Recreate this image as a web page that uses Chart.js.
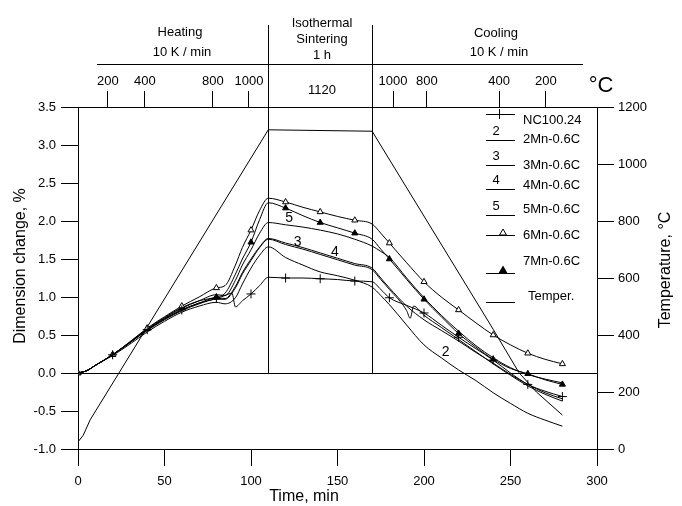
<!DOCTYPE html>
<html>
<head>
<meta charset="utf-8">
<script src="https://cdn.jsdelivr.net/npm/chart.js@4.4.0/dist/chart.umd.min.js"></script>
<style>
  html, body { margin: 0; padding: 0; background: #fff; }
  #wrap { width: 682px; height: 506px; position: relative; }
</style>
</head>
<body>
<div id="wrap"><canvas id="chart" width="682" height="506"></canvas></div>
<script>
// sampling times (min) shared by the dilatometer curves
const minutes = [0, 5, 10, 20, 30, 40, 50, 60, 70, 80, 85, 89, 91, 95, 100, 105, 110,
  120, 130, 140, 150, 160, 170, 175, 180, 190, 192, 194, 200, 210, 220, 230, 240, 250, 260, 270, 280];

// dimension change, %
const nc10024 = [0, 0.03, 0.1, 0.24, 0.4, 0.57, 0.71, 0.83, 0.92, 0.98, 1.02, 1.05, 0.87, 0.95, 1.04, 1.15, 1.26,
  1.25, 1.25, 1.24, 1.23, 1.21, 1.2, 1.1, 0.99, 0.89, null, null, 0.79, 0.63, 0.47, 0.32, 0.17, 0.0, -0.15, -0.24, -0.31];
const mn2 = [0, 0.03, 0.1, 0.23, 0.38, 0.54, 0.68, 0.8, 0.88, 0.93, 0.91, null, 0.99, 1.17, 1.38, 1.55, 1.66,
  1.52, 1.42, 1.33, 1.28, 1.22, 1.13, 1.02, 0.9, 0.63, null, null, 0.37, 0.2, 0.04, -0.1, -0.26, -0.4, -0.53, -0.62, -0.7];
const mn3 = [0, 0.03, 0.1, 0.24, 0.4, 0.57, 0.71, 0.83, 0.92, 0.99, 0.98, null, 1.14, 1.32, 1.5, 1.66, 1.77,
  1.71, 1.65, 1.58, 1.51, 1.44, 1.38, 1.25, 1.12, 0.88, null, null, 0.7, 0.56, 0.42, 0.27, 0.13, -0.02, -0.15, -0.26, -0.34];
const mn4 = [0, 0.03, 0.1, 0.24, 0.4, 0.56, 0.7, 0.82, 0.91, 0.97, 0.97, null, 1.12, 1.3, 1.48, 1.65, 1.76,
  1.69, 1.63, 1.56, 1.49, 1.42, 1.36, 1.23, 1.1, 0.82, 0.72, 0.88, 0.76, 0.6, 0.44, 0.28, 0.12, -0.03, -0.17, -0.28, -0.37];
const mn5 = [0, 0.03, 0.1, 0.24, 0.4, 0.57, 0.72, 0.85, 0.95, 1.03, 1.02, null, 1.22, 1.42, 1.62, 1.84, 1.98,
  1.95, 1.92, 1.88, 1.83, 1.76, 1.67, 1.6, 1.52, 1.25, null, null, 0.99, 0.76, 0.55, 0.36, 0.2, 0.07, -0.02, -0.08, -0.13];
const mn6 = [0, 0.03, 0.1, 0.24, 0.41, 0.59, 0.74, 0.88, 1.0, 1.12, 1.15, null, 1.42, 1.65, 1.88, 2.14, 2.3,
  2.25, 2.18, 2.12, 2.06, 2.01, 1.96, 1.84, 1.71, 1.45, null, null, 1.2, 1.0, 0.83, 0.66, 0.5, 0.37, 0.26, 0.18, 0.12];
const mn7 = [0, 0.03, 0.1, 0.24, 0.41, 0.58, 0.73, 0.86, 0.95, 1.0, 1.05, null, 1.3, 1.5, 1.72, 2.02, 2.24,
  2.17, 2.07, 1.98, 1.91, 1.84, 1.76, 1.63, 1.5, 1.23, null, null, 0.97, 0.74, 0.52, 0.34, 0.18, 0.06, -0.01, -0.09, -0.15];

// furnace temperature, °C
const tempMinutes = [0, 3, 7, 110, 170, 240, 255, 265, 280];
const tempValues = [25, 48, 102, 1120, 1115, 420, 267, 200, 119];

const seriesNames = ['NC100.24', '2Mn-0.6C', '3Mn-0.6C', '4Mn-0.6C', '5Mn-0.6C', '6Mn-0.6C', '7Mn-0.6C', 'Temper.'];
const legendNumbers = ['', '2', '3', '4', '5', '', '', ''];

// top temperature scale
const topTickMinutes = [17.3, 38.7, 78, 98.8, 182.1, 201.7, 243.4, 270.5];
const topTickLabels = ['200', '400', '800', '1000', '1000', '800', '400', '200'];

const FONT = 'Arial, "Liberation Sans", sans-serif';
Chart.defaults.font.family = FONT;
Chart.defaults.font.size = 13;
Chart.defaults.color = '#000';

function points(values) {
  return minutes.map((t, i) => ({ x: t, y: values[i] }));
}

// markers only every 20 min
function everyTwenty(r) {
  return ctx => (ctx.raw && ctx.raw.x % 20 === 0 ? r : 0);
}

function curve(label, values, extra) {
  return Object.assign({
    label: label,
    data: points(values),
    borderColor: '#000',
    borderWidth: 1,
    pointRadius: 0,
    pointHoverRadius: 0,
    cubicInterpolationMode: 'monotone',
    spanGaps: true,
    yAxisID: 'y'
  }, extra || {});
}

const datasets = [
  curve(seriesNames[0], nc10024, { pointStyle: 'cross', pointRadius: everyTwenty(4.5), pointBorderColor: '#000', pointBorderWidth: 1 }),
  curve(seriesNames[1], mn2),
  curve(seriesNames[2], mn3),
  curve(seriesNames[3], mn4),
  curve(seriesNames[4], mn5),
  curve(seriesNames[5], mn6, { pointStyle: 'triangle', pointRadius: everyTwenty(3.5), pointBackgroundColor: '#fff', pointBorderColor: '#000', pointBorderWidth: 1 }),
  curve(seriesNames[6], mn7, { pointStyle: 'triangle', pointRadius: everyTwenty(3.5), pointBackgroundColor: '#000', pointBorderColor: '#000', pointBorderWidth: 1 }),
  {
    label: seriesNames[7],
    data: tempMinutes.map((t, i) => ({ x: t, y: tempValues[i] })),
    borderColor: '#000',
    borderWidth: 1,
    pointRadius: 0,
    tension: 0,
    yAxisID: 'y2'
  }
];

function drawTriangle(ctx, cx, cy, r, fill) {
  ctx.beginPath();
  ctx.moveTo(cx, cy - r);
  ctx.lineTo(cx + r * 0.87, cy + r / 2);
  ctx.lineTo(cx - r * 0.87, cy + r / 2);
  ctx.closePath();
  ctx.fillStyle = fill;
  ctx.fill();
  ctx.stroke();
}

// header, phase dividers, curve numbers, legend and axis titles
const decorations = {
  id: 'decorations',
  afterDraw(chart) {
    const { ctx, scales: { x, y } } = chart;
    const y0 = Math.round(y.getPixelForValue(0)) + 0.5;
    ctx.save();
    ctx.strokeStyle = '#000';
    ctx.lineWidth = 1;

    ctx.beginPath();
    [110, 170].forEach(t => {
      const px = Math.round(x.getPixelForValue(t)) + 0.5;
      ctx.moveTo(px, 25);
      ctx.lineTo(px, y0);
    });
    ctx.moveTo(97, 64.5);
    ctx.lineTo(583, 64.5);
    ctx.stroke();

    ctx.fillStyle = '#000';
    ctx.textAlign = 'center';
    ctx.textBaseline = 'middle';
    ctx.font = '13px ' + FONT;
    [['Heating', 180, 32], ['10 K / min', 182, 52],
     ['Isothermal', 322, 23], ['Sintering', 322, 39], ['1 h', 322, 55],
     ['Cooling', 496, 33], ['10 K / min', 499, 52],
     ['1120', 322, 90]].forEach(([s, px, py]) => ctx.fillText(s, px, py));
    ctx.font = '22px ' + FONT;
    ctx.fillText('°C', 601, 86);

    // numbers next to curves
    ctx.font = '14px ' + FONT;
    [['5', 122, 2.04], ['3', 127, 1.72], ['4', 148.5, 1.59], ['2', 212.5, 0.28]].forEach(([s, t, v]) => {
      ctx.fillText(s, x.getPixelForValue(t), y.getPixelForValue(v));
    });

    // legend
    const textY = [120, 139, 165, 185, 209, 235, 261, 296];
    const lineY = [114, 140, 165, 189, 215, 235, 273, 302];
    ctx.font = '13px ' + FONT;
    seriesNames.forEach((name, i) => {
      const ly = lineY[i] + 0.5;
      ctx.beginPath();
      ctx.moveTo(486, ly);
      ctx.lineTo(515, ly);
      ctx.stroke();
      ctx.textAlign = 'left';
      ctx.fillStyle = '#000';
      ctx.fillText(name, i === 7 ? 528 : 523, textY[i]);
      if (legendNumbers[i]) {
        ctx.textAlign = 'center';
        ctx.fillText(legendNumbers[i], 496, lineY[i] - 9);
      }
    });
    ctx.beginPath();
    ctx.moveTo(499.5, lineY[0] - 5);
    ctx.lineTo(499.5, lineY[0] + 5);
    ctx.stroke();
    drawTriangle(ctx, 503, lineY[5] - 2, 4, '#fff');
    ctx.lineWidth = 1.5;
    drawTriangle(ctx, 503, lineY[6] - 2, 4, '#000');
    ctx.lineWidth = 1;

    // axis titles
    ctx.fillStyle = '#000';
    ctx.textAlign = 'center';
    ctx.font = '16px ' + FONT;
    ctx.fillText('Time, min', 304, 497);
    ctx.save();
    ctx.translate(21, 266);
    ctx.rotate(-Math.PI / 2);
    ctx.fillText('Dimension change, %', 0, 0);
    ctx.restore();
    ctx.save();
    ctx.translate(666, 270);
    ctx.rotate(-Math.PI / 2);
    ctx.fillText('Temperature, °C', 0, 0);
    ctx.restore();

    ctx.restore();
  }
};

const tickGrid = { drawOnChartArea: false, tickLength: 17, tickColor: '#000', tickWidth: 1 };
const axisBorder = { display: true, color: '#000', width: 1 };

new Chart(document.getElementById('chart'), {
  type: 'line',
  data: { datasets: datasets },
  options: {
    responsive: false,
    animation: false,
    events: [],
    layout: { padding: 0, autoPadding: false },
    plugins: { legend: { display: false }, tooltip: { enabled: false } },
    scales: {
      x: {
        type: 'linear', position: 'bottom', min: 0, max: 300,
        ticks: { stepSize: 50, padding: 8, maxRotation: 0 },
        grid: tickGrid, border: axisBorder,
        afterFit: s => { s.height = 57; }
      },
      x2: {
        type: 'linear', position: 'top', min: 0, max: 300,
        afterBuildTicks: s => { s.ticks = topTickMinutes.map(v => ({ value: v })); },
        ticks: { autoSkip: false, maxRotation: 0, padding: 2, callback: (v, i) => topTickLabels[i] },
        grid: { drawOnChartArea: false, tickLength: 16, tickColor: '#000', tickWidth: 1 },
        border: axisBorder,
        afterFit: s => { s.height = 107; }
      },
      y: {
        type: 'linear', position: 'left', min: -1, max: 3.5,
        ticks: { stepSize: 0.5, padding: 5, callback: v => v.toFixed(1) },
        grid: {
          drawOnChartArea: true, tickLength: 17, tickColor: '#000', tickWidth: 1,
          color: c => (c.tick && c.tick.value === 0 ? '#000' : 'rgba(0,0,0,0)')
        },
        border: axisBorder,
        afterFit: s => { s.width = 78; }
      },
      y2: {
        type: 'linear', position: 'right', min: 0, max: 1200,
        ticks: { stepSize: 200, padding: 4, callback: v => String(v) },
        grid: tickGrid, border: axisBorder,
        afterFit: s => { s.width = 85; }
      }
    }
  },
  plugins: [decorations]
});
</script>
</body>
</html>
